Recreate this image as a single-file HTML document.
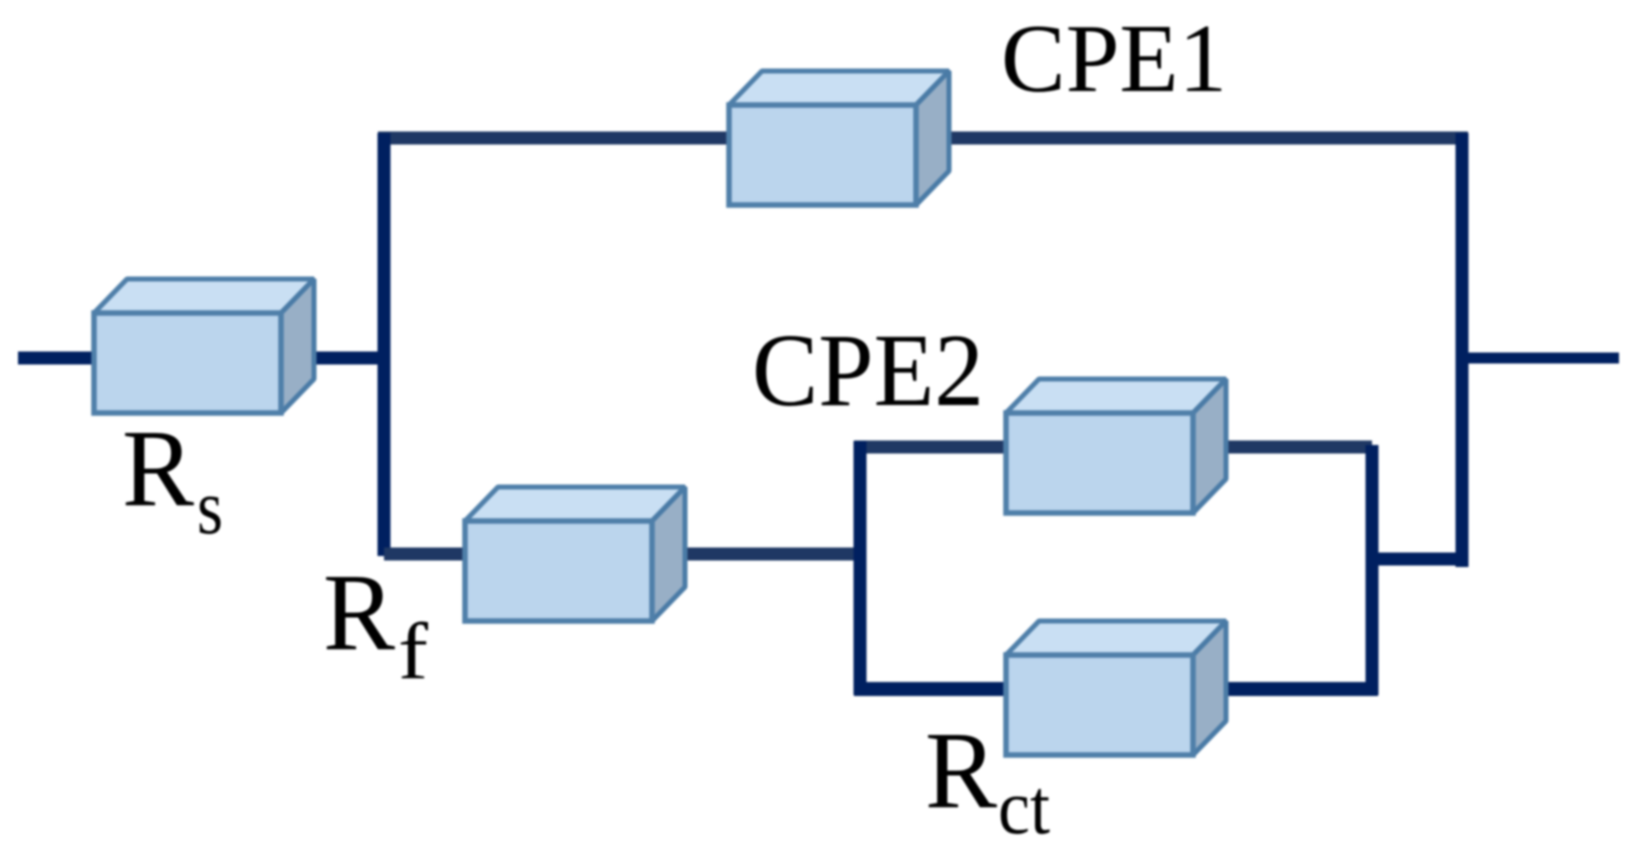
<!DOCTYPE html>
<html>
<head>
<meta charset="utf-8">
<style>
html,body{margin:0;padding:0;background:#fff;width:1641px;height:860px;overflow:hidden}
svg{display:block;filter:blur(1.1px)}
text{font-family:"Liberation Serif",serif;fill:#000}
</style>
</head>
<body>
<svg width="1641" height="860" viewBox="0 0 1641 860" xmlns="http://www.w3.org/2000/svg">
<defs>
<g id="box" stroke-linejoin="bevel">
  <path d="M0 0 L33 -34 L220 -34 L187 0 Z" fill="#c9dff3" stroke="#4f7fa9" stroke-width="5"/>
  <path d="M187 0 L220 -34 L220 66 L187 100 Z" fill="#98afc6" stroke="#4a7ba6" stroke-width="5"/>
  <rect x="0" y="0" width="187" height="100" fill="#bbd5ed" stroke="#4f7fa9" stroke-width="5.5" stroke-linejoin="miter"/>
</g>
</defs>
<g fill="none" stroke-linecap="butt">
  <path d="M18 358 H386" stroke="#002060" stroke-width="13"/>
  <path d="M1462 358 H1619" stroke="#002060" stroke-width="11"/>
  <path d="M378 138 H1468" stroke="#1f3864" stroke-width="13"/>
  <path d="M384 133 V556" stroke="#002060" stroke-width="13"/>
  <path d="M1462 133 V567" stroke="#002060" stroke-width="13"/>
  <path d="M384 554 H860" stroke="#1f3864" stroke-width="13"/>
  <path d="M854 447 H1372" stroke="#1f3864" stroke-width="13"/>
  <path d="M854 689 H1378" stroke="#002060" stroke-width="14"/>
  <path d="M860 441 V695" stroke="#002060" stroke-width="13"/>
  <path d="M1372 445 V695" stroke="#002060" stroke-width="13"/>
  <path d="M1372 559 H1462" stroke="#002060" stroke-width="13"/>
</g>
<use href="#box" x="94" y="313"/>
<use href="#box" x="729" y="105"/>
<use href="#box" x="465" y="521"/>
<use href="#box" x="1006" y="413"/>
<use href="#box" x="1006" y="655"/>
<text x="1001" y="91" font-size="97" textLength="226" lengthAdjust="spacingAndGlyphs">CPE1</text>
<text x="752" y="405" font-size="104" textLength="232" lengthAdjust="spacingAndGlyphs">CPE2</text>
<text x="122" y="505" font-size="110" textLength="72" lengthAdjust="spacingAndGlyphs">R</text>
<text x="197" y="533" font-size="78" textLength="26" lengthAdjust="spacingAndGlyphs">s</text>
<text x="323" y="649" font-size="110" textLength="72" lengthAdjust="spacingAndGlyphs">R</text>
<text x="398" y="678" font-size="80" textLength="30" lengthAdjust="spacingAndGlyphs">f</text>
<text x="925" y="807" font-size="110" textLength="72" lengthAdjust="spacingAndGlyphs">R</text>
<text x="998" y="833" font-size="78" textLength="52" lengthAdjust="spacingAndGlyphs">ct</text>
</svg>
</body>
</html>
